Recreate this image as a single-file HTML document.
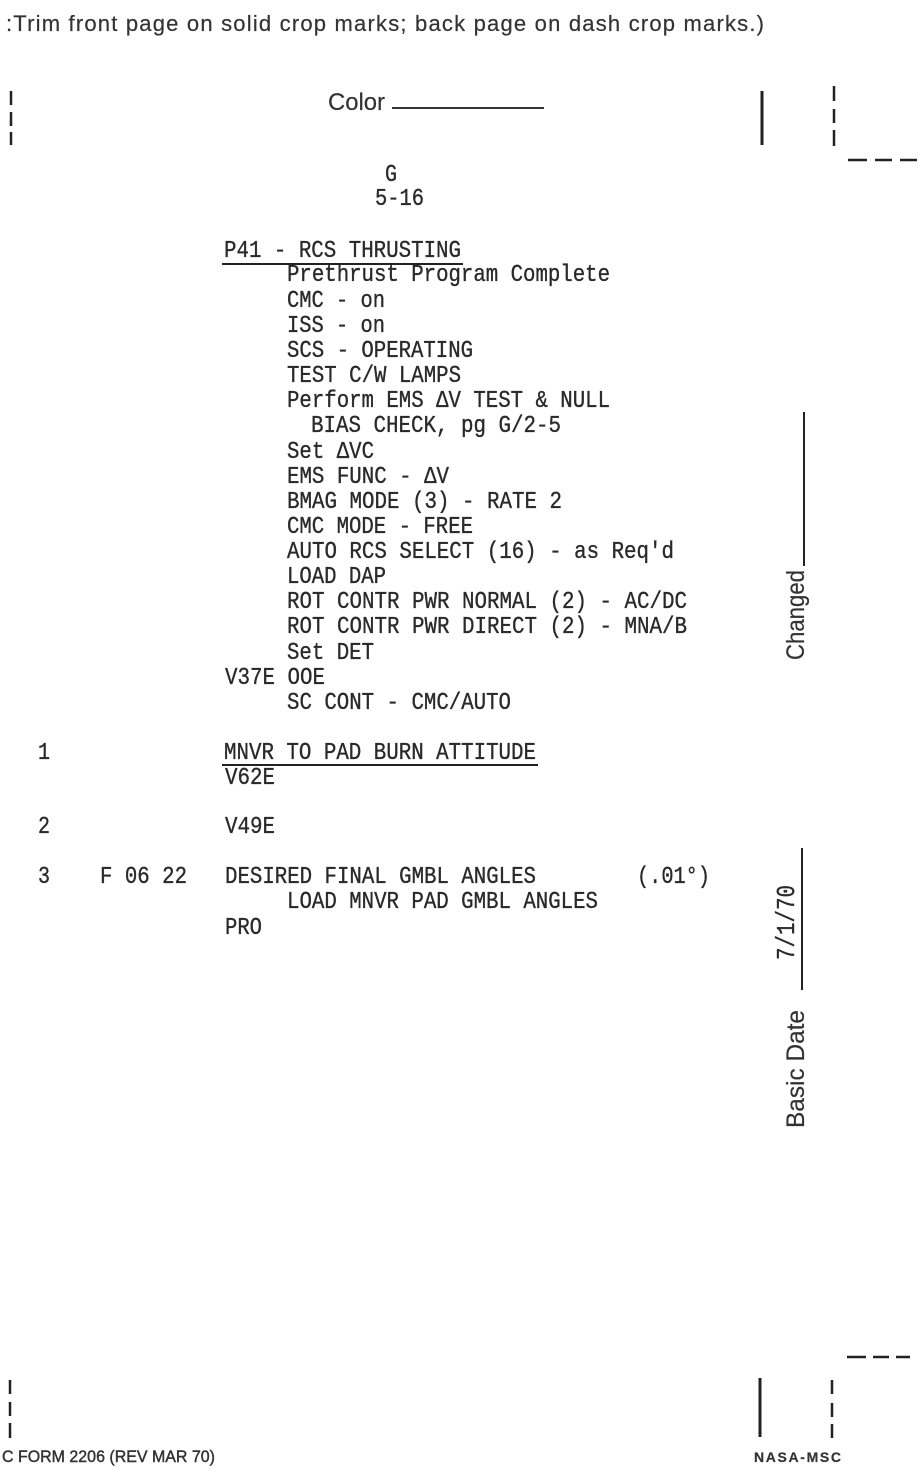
<!DOCTYPE html>
<html>
<head>
<meta charset="utf-8">
<style>
html,body{margin:0;padding:0;background:#fff;width:922px;height:1480px;overflow:hidden}
svg{display:block}
.m{font-family:"Liberation Mono","DejaVu Sans Mono",monospace;font-size:24px;fill:#2a2a2a;stroke:#2a2a2a;stroke-width:.35px}
.s{font-family:"Liberation Sans",sans-serif;fill:#333;stroke:#333;stroke-width:.2px}
</style>
</head>
<body>
<svg width="922" height="1480" viewBox="0 0 922 1480" xmlns="http://www.w3.org/2000/svg">
<rect width="922" height="1480" fill="#fff"/>
<text class="s" x="6" y="31" font-size="22" textLength="758" lengthAdjust="spacing">:Trim front page on solid crop marks; back page on dash crop marks.)</text>
<text class="s" x="328" y="110" font-size="24" textLength="57" lengthAdjust="spacingAndGlyphs">Color</text>
<line x1="392" y1="108" x2="544" y2="108" stroke="#333" stroke-width="2"/>

<g stroke="#222" stroke-width="2.5" fill="none">
<path d="M11 91V105M11 112V126M11 132V145"/>
<path d="M762 91V145" stroke-width="3"/>
<path d="M834 86V101M834 109V123M834 130V146"/>
<path d="M848 160H867M875 160H892M900 160H917"/>
<path d="M10 1380V1394M10 1402V1416M10 1423V1438"/>
<path d="M760 1378V1437" stroke-width="3"/>
<path d="M832 1380V1394M832 1403V1417M832 1424V1438"/>
<path d="M847 1357H866M873 1357H889M896 1357H910"/>
<path d="M804 412V566" stroke-width="2"/>
<path d="M802 848V990" stroke-width="2"/>
</g>

<g>
<text class="m" x="385" y="181" textLength="12" lengthAdjust="spacingAndGlyphs">G</text>
<text class="m" x="375" y="205" textLength="49" lengthAdjust="spacingAndGlyphs">5-16</text>
<text class="m" x="224" y="257" textLength="237" lengthAdjust="spacingAndGlyphs">P41 - RCS THRUSTING</text>
<text class="m" x="287" y="281" textLength="323" lengthAdjust="spacingAndGlyphs">Prethrust Program Complete</text>
<text class="m" x="287" y="307" textLength="98" lengthAdjust="spacingAndGlyphs">CMC - on</text>
<text class="m" x="287" y="332" textLength="98" lengthAdjust="spacingAndGlyphs">ISS - on</text>
<text class="m" x="287" y="357" textLength="186" lengthAdjust="spacingAndGlyphs">SCS - OPERATING</text>
<text class="m" x="287" y="382" textLength="174" lengthAdjust="spacingAndGlyphs">TEST C/W LAMPS</text>
<text class="m" x="287" y="407" textLength="323" lengthAdjust="spacingAndGlyphs">Perform EMS ΔV TEST &amp; NULL</text>
<text class="m" x="311" y="432" textLength="250" lengthAdjust="spacingAndGlyphs">BIAS CHECK, pg G/2-5</text>
<text class="m" x="287" y="458" textLength="87" lengthAdjust="spacingAndGlyphs">Set ΔVC</text>
<text class="m" x="287" y="483" textLength="162" lengthAdjust="spacingAndGlyphs">EMS FUNC - ΔV</text>
<text class="m" x="287" y="508" textLength="275" lengthAdjust="spacingAndGlyphs">BMAG MODE (3) - RATE 2</text>
<text class="m" x="287" y="533" textLength="186" lengthAdjust="spacingAndGlyphs">CMC MODE - FREE</text>
<text class="m" x="287" y="558" textLength="387" lengthAdjust="spacingAndGlyphs">AUTO RCS SELECT (16) - as Req'd</text>
<text class="m" x="287" y="583" textLength="99" lengthAdjust="spacingAndGlyphs">LOAD DAP</text>
<text class="m" x="287" y="608" textLength="400" lengthAdjust="spacingAndGlyphs">ROT CONTR PWR NORMAL (2) - AC/DC</text>
<text class="m" x="287" y="633" textLength="400" lengthAdjust="spacingAndGlyphs">ROT CONTR PWR DIRECT (2) - MNA/B</text>
<text class="m" x="287" y="659" textLength="87" lengthAdjust="spacingAndGlyphs">Set DET</text>
<text class="m" x="225" y="684" textLength="100" lengthAdjust="spacingAndGlyphs">V37E OOE</text>
<text class="m" x="287" y="709" textLength="224" lengthAdjust="spacingAndGlyphs">SC CONT - CMC/AUTO</text>
<text class="m" x="224" y="759" textLength="312" lengthAdjust="spacingAndGlyphs">MNVR TO PAD BURN ATTITUDE</text>
<text class="m" x="225" y="784" textLength="50" lengthAdjust="spacingAndGlyphs">V62E</text>
<text class="m" x="225" y="833" textLength="50" lengthAdjust="spacingAndGlyphs">V49E</text>
<text class="m" x="225" y="883" textLength="311" lengthAdjust="spacingAndGlyphs">DESIRED FINAL GMBL ANGLES</text>
<text class="m" x="637" y="883" textLength="73" lengthAdjust="spacingAndGlyphs">(.01°)</text>
<text class="m" x="287" y="908" textLength="311" lengthAdjust="spacingAndGlyphs">LOAD MNVR PAD GMBL ANGLES</text>
<text class="m" x="225" y="934" textLength="37" lengthAdjust="spacingAndGlyphs">PRO</text>
<text class="m" x="38" y="759" textLength="12" lengthAdjust="spacingAndGlyphs">1</text>
<text class="m" x="38" y="833" textLength="12" lengthAdjust="spacingAndGlyphs">2</text>
<text class="m" x="38" y="883" textLength="12" lengthAdjust="spacingAndGlyphs">3</text>
<text class="m" x="100" y="883" textLength="87" lengthAdjust="spacingAndGlyphs">F 06 22</text>
</g>

<g stroke="#222" stroke-width="2" fill="none">
<line x1="222" y1="264" x2="463" y2="264"/>
<line x1="222" y1="765" x2="538" y2="765"/>
</g>

<text class="s" transform="translate(804 660) rotate(-90)" font-size="25" textLength="90" lengthAdjust="spacingAndGlyphs">Changed</text>
<text class="s" transform="translate(804 1128) rotate(-90)" font-size="25" textLength="118" lengthAdjust="spacingAndGlyphs">Basic Date</text>
<text class="m" transform="translate(794 960) rotate(-90)" style="font-size:26px" textLength="75" lengthAdjust="spacingAndGlyphs">7/1/70</text>

<text class="s" x="2" y="1462" font-size="17" textLength="213" lengthAdjust="spacingAndGlyphs" style="stroke-width:.45px">C FORM 2206 (REV MAR 70)</text>
<text class="s" x="754" y="1462" font-size="14" font-weight="bold" textLength="87">NASA-MSC</text>
</svg>
</body>
</html>
